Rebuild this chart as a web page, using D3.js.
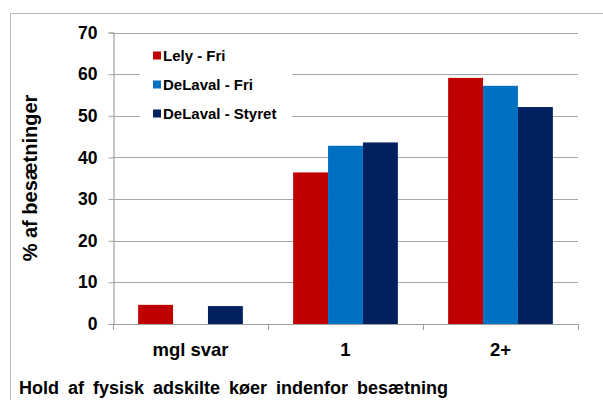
<!DOCTYPE html>
<html>
<head>
<meta charset="utf-8">
<script src="https://cdn.jsdelivr.net/npm/d3@7"></script>
<style>
body { margin: 0; background: #fff; }
text { font-family: "Liberation Sans", Arial, sans-serif; font-weight: bold; fill: #000; }
</style>
</head>
<body>
<div id="chart"></div>
<script>
// categories and series
var categories = ["mgl svar", "1", "2+"];
var seriesNames = ["Lely - Fri", "DeLaval - Fri", "DeLaval - Styret"];
var lelyFri = [4.6, 36.4, 59.1];
var delavalFri = [0, 42.8, 57.2];
var delavalStyret = [4.3, 43.6, 52.1];
var yTicks = [0, 10, 20, 30, 40, 50, 60, 70];
var colors = ["#c00000", "#0070c0", "#002060"];

var series = [lelyFri, delavalFri, delavalStyret];

var svg = d3.select("#chart")
	.append("svg")
	.attr("width", 603)
	.attr("height", 400);

// outer frame (cut off at right and bottom)
svg.append("path")
	.attr("d", "M10.5,410 V13.5 H610")
	.attr("fill", "none")
	.attr("stroke", "#b8b8b8");

// plot area bounds (window.top is reserved, so use other names)
var plotLeft = 113, plotRight = 578, plotTop = 32.5, plotBottom = 324;

var x = d3.scaleBand().domain(categories).range([plotLeft, plotRight]);
var x1 = d3.scaleBand().domain(seriesNames).range([0, x.bandwidth()]).paddingOuter(0.72).paddingInner(0);
var y = d3.scaleLinear().domain([0, 70]).range([plotBottom, plotTop]);

// gridlines
svg.append("g").selectAll("line")
	.data(yTicks.filter(function(d) { return d > 0; }))
	.enter().append("line")
	.attr("x1", plotLeft).attr("x2", plotRight)
	.attr("y1", function(d) { return Math.round(y(d)) + 0.5; })
	.attr("y2", function(d) { return Math.round(y(d)) + 0.5; })
	.attr("stroke", "#a6a6a6")
	.attr("stroke-width", 1.2);

// legend box hides the gridlines behind it
svg.append("rect")
	.attr("x", 140).attr("y", 40).attr("width", 152).attr("height", 88)
	.attr("fill", "#fff");

// bars
var groups = svg.append("g").selectAll("g")
	.data(series)
	.enter().append("g")
	.attr("fill", function(d, i) { return colors[i]; });

groups.selectAll("rect")
	.data(function(d, i) { return d.map(function(v, j) { return { s: seriesNames[i], c: categories[j], v: v }; }); })
	.enter().append("rect")
	.attr("x", function(d) { return x(d.c) + x1(d.s); })
	.attr("width", x1.bandwidth())
	.attr("y", function(d) { return y(d.v); })
	.attr("height", function(d) { return plotBottom - y(d.v); });

// y axis
var yAxis = svg.append("g")
	.attr("transform", "translate(" + (plotLeft + 0.5) + ",0)")
	.call(d3.axisLeft(y).tickValues(yTicks).tickSize(5).tickPadding(11));
yAxis.select(".domain").attr("stroke", "#a0a0a0").attr("stroke-width", 1.2);
yAxis.selectAll(".tick line").attr("stroke", "#a0a0a0");
yAxis.selectAll(".tick text").style("font-size", "17.5px").attr("fill", "#000").attr("font-family", null);

// x axis with ticks on band edges
svg.append("line")
	.attr("x1", plotLeft).attr("x2", plotRight)
	.attr("y1", plotBottom + 0.5).attr("y2", plotBottom + 0.5)
	.attr("stroke", "#a0a0a0").attr("stroke-width", 1.2);
svg.append("g").selectAll("line")
	.data(categories.concat(["end"]))
	.enter().append("line")
	.attr("x1", function(d, i) { return plotLeft + i * x.bandwidth() + 0.5; })
	.attr("x2", function(d, i) { return plotLeft + i * x.bandwidth() + 0.5; })
	.attr("y1", plotBottom).attr("y2", plotBottom + 6)
	.attr("stroke", "#a0a0a0");
svg.append("g").selectAll("text")
	.data(categories)
	.enter().append("text")
	.attr("x", function(d) { return x(d) + x.bandwidth() / 2; })
	.attr("y", 356)
	.attr("text-anchor", "middle")
	.style("font-size", "18.5px")
	.text(function(d) { return d; });

// y title
svg.append("text")
	.attr("transform", "translate(37,178) rotate(-90)")
	.attr("text-anchor", "middle")
	.style("font-size", "20px")
	.text("% af besætninger");

// x title
svg.append("text")
	.attr("x", 19).attr("y", 394)
	.style("font-size", "18px")
	.style("word-spacing", "4px")
	.text("Hold af fysisk adskilte køer indenfor besætning");

// legend
var legend = svg.append("g").selectAll("g")
	.data(seriesNames)
	.enter().append("g")
	.attr("transform", function(d, i) { return "translate(153," + (55.5 + i * 29) + ")"; });
legend.append("rect")
	.attr("x", 0).attr("y", -4).attr("width", 8).attr("height", 8)
	.attr("fill", function(d, i) { return colors[i]; });
legend.append("text")
	.attr("x", 10).attr("y", 5.5)
	.style("font-size", "15px")
	.text(function(d) { return d; });
</script>
</body>
</html>
